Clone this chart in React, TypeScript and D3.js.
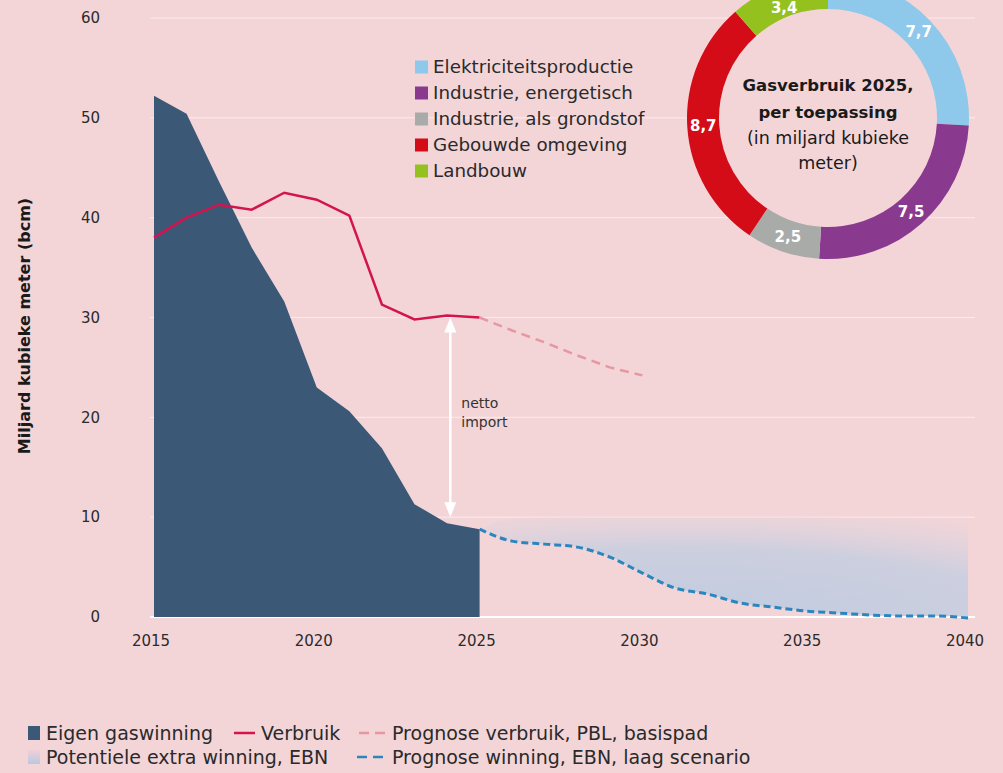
import React from 'react';
import * as d3 from 'd3';

const W = 1003;
const H = 773;

// historische jaren
const jaren = [2015, 2016, 2017, 2018, 2019, 2020, 2021, 2022, 2023, 2024, 2025];
const eigenWinning = [52.2, 50.4, 43.6, 37.0, 31.6, 23.0, 20.6, 16.9, 11.3, 9.4, 8.8];
const verbruik = [38.0, 40.0, 41.3, 40.8, 42.5, 41.8, 40.2, 31.3, 29.8, 30.2, 30.0];

// prognoses
const prognoseVerbruikJaren = [2025, 2026, 2027, 2028, 2029, 2030];
const prognoseVerbruik = [30.0, 28.7, 27.5, 26.2, 25.0, 24.2];

const prognoseJaren = [2025, 2026, 2027, 2028, 2029, 2030, 2031, 2032, 2033, 2034, 2035, 2036, 2037, 2038, 2039, 2040];
const prognoseWinning = [8.8, 7.6, 7.3, 7.0, 6.0, 4.4, 2.9, 2.3, 1.4, 1.0, 0.6, 0.4, 0.2, 0.1, 0.1, -0.1];
const potentieelBoven = [8.8, 9.9, 10.0, 10.0, 10.0, 10.0, 10.0, 10.0, 10.0, 10.0, 10.0, 10.0, 10.0, 10.0, 10.0, 10.0];

const yTicks = [0, 10, 20, 30, 40, 50, 60];
const xTicks = [2015, 2020, 2025, 2030, 2035, 2040];

// netto import pijl (jaar, van, tot)
const nettoImport = { jaar: 2024.1, boven: 30.0, onder: 10.0 };

// donut 2025
const toepassingen = ['Elektriciteitsproductie', 'Industrie, energetisch', 'Industrie, als grondstof', 'Gebouwde omgeving', 'Landbouw'];
const gasverbruik2025 = [7.7, 7.5, 2.5, 8.7, 3.4];
const toepassingKleuren = ['#8ec8ea', '#8a3a8e', '#a9aba9', '#d30c17', '#95c11f'];

const BG = '#f3d5d8';
const FONT = '"DejaVu Sans", sans-serif';

export default function App() {
  const x = d3.scaleLinear().domain([2015, 2040]).range([154, 968]);
  const y = d3.scaleLinear().domain([0, 60]).range([617, 18]);

  const hist = jaren.map((j, i) => ({ j, w: eigenWinning[i], v: verbruik[i] }));
  const progV = prognoseVerbruikJaren.map((j, i) => ({ j, v: prognoseVerbruik[i] }));
  const progW = prognoseJaren.map((j, i) => ({ j, w: prognoseWinning[i], p: potentieelBoven[i] }));

  const eigenArea = d3.area<any>().x((d) => x(d.j)).y0(y(0)).y1((d) => y(d.w))(hist);
  const verbruikLine = d3.line<any>().x((d) => x(d.j)).y((d) => y(d.v))(hist);
  const progVLine = d3.line<any>().x((d) => x(d.j)).y((d) => y(d.v))(progV);
  const progWLine = d3.line<any>().x((d) => x(d.j)).y((d) => y(d.w)).curve(d3.curveMonotoneX)(progW);
  const potArea = d3
    .area<any>()
    .x((d) => x(d.j))
    .y0((d) => y(Math.max(d.w, 0)))
    .y1((d) => y(d.p))
    .curve(d3.curveMonotoneX)(progW);

  // donut
  const cx = 828;
  const cy = 118;
  const pie = d3.pie<number>().sort(null).value((d) => d)(gasverbruik2025);
  const arc = d3.arc<any>().innerRadius(109).outerRadius(141);
  const labelArc = d3.arc<any>().innerRadius(125).outerRadius(125);

  const ax = x(nettoImport.jaar);
  const ay1 = y(nettoImport.boven);
  const ay2 = y(nettoImport.onder);

  return (
    <svg width={W} height={H} style={{ position: 'absolute', left: 0, top: 0, fontFamily: FONT }}>
      <defs>
        <radialGradient id="pot" cx="0.42" cy="1" r="1.15">
          <stop offset="0" stopColor="#c0cbe0" stopOpacity={1} />
          <stop offset="0.6" stopColor="#c6cee0" stopOpacity={0.85} />
          <stop offset="1" stopColor="#dcd3de" stopOpacity={0.05} />
        </radialGradient>
        <linearGradient id="potLeg" x1="0" y1="0" x2="0" y2="1">
          <stop offset="0" stopColor="#f0d0d6" />
          <stop offset="1" stopColor="#b9c8e2" />
        </linearGradient>
      </defs>
      <rect width={W} height={H} fill={BG} />

      {/* rasterlijnen */}
      {yTicks.map((t) => (
        <g key={t}>
          <line
            x1={150}
            x2={975}
            y1={y(t)}
            y2={y(t)}
            stroke="#ffffff"
            strokeOpacity={t === 0 ? 1 : 0.55}
            strokeWidth={t === 0 ? 2 : 1}
          />
          <text x={100} y={y(t)} dy="0.35em" textAnchor="end" fontSize={15} fill="#2b2b2b">
            {t}
          </text>
        </g>
      ))}
      {xTicks.map((t) => (
        <text key={t} x={x(t) - 3} y={646} textAnchor="middle" fontSize={15} fill="#2b2b2b">
          {t}
        </text>
      ))}
      <text
        transform={`translate(30,${326}) rotate(-90)`}
        textAnchor="middle"
        fontSize={16}
        fontWeight="bold"
        fill="#1a1a1a"
      >
        Miljard kubieke meter (bcm)
      </text>

      {/* series */}
      <path d={potArea ?? ''} fill="url(#pot)" />
      <path d={eigenArea ?? ''} fill="#3b5877" />
      <path d={verbruikLine ?? ''} fill="none" stroke="#d3144f" strokeWidth={2.5} />
      <path d={progVLine ?? ''} fill="none" stroke="#e6979f" strokeWidth={2.5} strokeDasharray="9 6" />
      <path d={progWLine ?? ''} fill="none" stroke="#2b86bf" strokeWidth={3} strokeDasharray="7 4" />

      {/* netto import */}
      <line x1={ax} x2={ax} y1={ay1 + 12} y2={ay2 - 12} stroke="#fff" strokeWidth={2.5} />
      <polygon points={`${ax},${ay1} ${ax - 6},${ay1 + 15} ${ax + 6},${ay1 + 15}`} fill="#fff" />
      <polygon points={`${ax},${ay2} ${ax - 6},${ay2 - 15} ${ax + 6},${ay2 - 15}`} fill="#fff" />
      <text x={ax + 11} y={408} fontSize={14} fill="#333">
        netto
      </text>
      <text x={ax + 11} y={427} fontSize={14} fill="#333">
        import
      </text>

      {/* legenda toepassingen */}
      {toepassingen.map((t, i) => (
        <g key={t} transform={`translate(415,${67 + i * 26})`}>
          <rect x={0} y={-6.5} width={13} height={13} fill={toepassingKleuren[i]} />
          <text x={18} y={0} dy="0.35em" fontSize={18.3} fill="#2a2a2a">
            {t}
          </text>
        </g>
      ))}

      {/* donut */}
      <g transform={`translate(${cx},${cy})`}>
        <circle r={141} fill={BG} />
        {pie.map((p, i) => (
          <path key={i} d={arc(p) ?? ''} fill={toepassingKleuren[i]} />
        ))}
        {pie.map((p, i) => {
          const [lx, ly] = labelArc.centroid(p);
          return (
            <text
              key={'l' + i}
              x={lx}
              y={Math.max(ly, 8 - cy)}
              dy="0.35em"
              textAnchor="middle"
              fontSize={15}
              fontWeight="bold"
              fill="#fff"
            >
              {String(gasverbruik2025[i]).replace('.', ',')}
            </text>
          );
        })}
        <text textAnchor="middle" fontSize={16.5} fill="#1a1a1a">
          <tspan x={0} y={-33} dy="0.35em" fontWeight="bold">
            Gasverbruik 2025,
          </tspan>
          <tspan x={0} y={-6} dy="0.35em" fontWeight="bold">
            per toepassing
          </tspan>
          <tspan x={0} y={20} dy="0.35em" fontSize={17.5}>
            (in miljard kubieke
          </tspan>
          <tspan x={0} y={45} dy="0.35em" fontSize={17.5}>
            meter)
          </tspan>
        </text>
      </g>

      {/* onderste legenda */}
      <g fontSize={19} fill="#2a2a2a">
        <rect x={28} y={726} width={12} height={14} fill="#3b5877" />
        <text x={46} y={733} dy="0.35em">Eigen gaswinning</text>
        <line x1={234} x2={255} y1={733} y2={733} stroke="#d3144f" strokeWidth={2.5} />
        <text x={261} y={733} dy="0.35em">Verbruik</text>
        <line x1={359} x2={385} y1={733} y2={733} stroke="#e6979f" strokeWidth={2.5} strokeDasharray="10 6" />
        <text x={392} y={733} dy="0.35em">Prognose verbruik, PBL, basispad</text>

        <rect x={28} y={750} width={12} height={14} fill="url(#potLeg)" />
        <text x={46} y={757} dy="0.35em">Potentiele extra winning, EBN</text>
        <line x1={357} x2={385} y1={757} y2={757} stroke="#2b86bf" strokeWidth={2.5} strokeDasharray="10 6" />
        <text x={392} y={757} dy="0.35em">Prognose winning, EBN, laag scenario</text>
      </g>
    </svg>
  );
}
